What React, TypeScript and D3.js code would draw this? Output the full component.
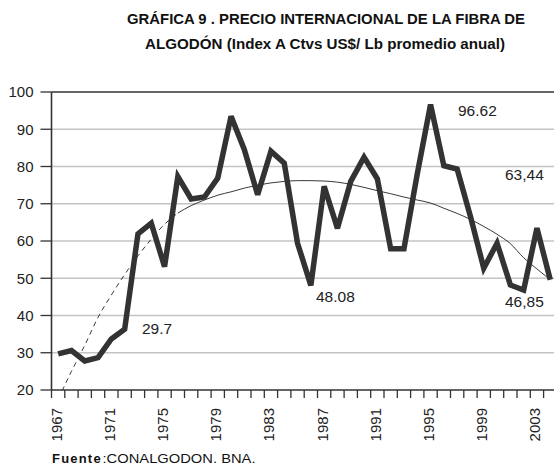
import React from "react";
import * as d3 from "d3";

const years = [
  1967, 1968, 1969, 1970, 1971, 1972, 1973, 1974, 1975, 1976, 1977, 1978, 1979,
  1980, 1981, 1982, 1983, 1984, 1985, 1986, 1987, 1988, 1989, 1990, 1991, 1992,
  1993, 1994, 1995, 1996, 1997, 1998, 1999, 2000, 2001, 2002, 2003, 2004,
];

const prices = [
  29.7, 30.6, 27.8, 28.7, 33.7, 36.3, 61.9, 64.8, 53.1, 77.3, 71.3, 71.8, 76.9,
  93.5, 84.5, 72.4, 84.1, 80.9, 59.4, 48.08, 74.7, 63.4, 76.0, 82.5, 76.7, 57.9,
  57.9, 78.0, 96.62, 80.2, 79.3, 66.6, 52.7, 59.4, 48.2, 46.85, 63.44, 49.6,
];

const trend = [
  17.5, 25, 32, 39.5, 45.5, 51, 56, 60.5, 64.5, 67.5, 69.5, 71, 72.3, 73.2,
  74.2, 75, 75.6, 76, 76.2, 76.2, 76.1, 75.8, 75.2, 74.4, 73.5, 72.7, 71.8, 71,
  70.2, 68.8, 67.4, 65.8, 63.9, 61.8, 59.3, 55.5, 52.5, 49.6,
];

const yTicks = [20, 30, 40, 50, 60, 70, 80, 90, 100];
const xLabelYears = [1967, 1971, 1975, 1979, 1983, 1987, 1991, 1995, 1999, 2003];

const annotations = ["29.7", "48.08", "96.62", "63,44", "46,85"];

const titleLines = [
  "GRÁFICA 9 . PRECIO INTERNACIONAL DE LA FIBRA DE",
  "ALGODÓN (Index A Ctvs US$/ Lb promedio anual)",
];

const sourceLabel = "Fuente";
const sourceText = ":CONALGODON. BNA.";

const W = 554;
const H = 466;
const left = 51.5;
const step = 13.3;
const top = 92;
const bottom = 390;
const font = "'Liberation Sans', Arial, sans-serif";

const annPos: Record<string, [number, number]> = {
  "29.7": [142, 334],
  "48.08": [316, 302],
  "96.62": [458, 116],
  "63,44": [505, 180],
  "46,85": [505, 307],
};

export default function App() {
  const x = d3
    .scaleBand<number>()
    .domain(years)
    .range([left, left + years.length * step])
    .padding(0);
  const y = d3.scaleLinear().domain([20, 100]).range([bottom, top]);
  const cx = (yr: number) => (x(yr) as number) + x.bandwidth() / 2;

  const line = d3
    .line<number>()
    .x((_, i) => cx(years[i]))
    .y((d) => y(d));

  const splitIdx = years.indexOf(1976);
  const trendDashed =
    d3
      .line<number>()
      .x((_, i) => cx(years[i]))
      .y((d) => y(d))
      .curve(d3.curveMonotoneX)(trend.slice(0, splitIdx + 1)) || "";
  const trendSolid =
    d3
      .line<number>()
      .x((_, i) => cx(years[i + splitIdx]))
      .y((d) => y(d))
      .curve(d3.curveMonotoneX)(trend.slice(splitIdx)) || "";

  const rightEdge = left + years.length * step;
  const boundaries = years.map((yr) => x(yr) as number).concat([rightEdge]);

  return (
    <svg
      width={W}
      height={H}
      style={{ position: "absolute", left: 0, top: 0, background: "#fff" }}
      fontFamily={font}
    >
      <defs>
        <clipPath id="plotClip">
          <rect x={left} y={top} width={rightEdge - left} height={bottom - top} />
        </clipPath>
      </defs>
      <rect x={0} y={0} width={W} height={H} fill="#fff" />

      <text
        x={326}
        y={24}
        textAnchor="middle"
        fontSize={14}
        fontWeight="bold"
        fill="#111"
        textLength={398}
        lengthAdjust="spacingAndGlyphs"
      >
        {titleLines[0]}
      </text>
      <text
        x={325}
        y={49}
        textAnchor="middle"
        fontSize={14}
        fontWeight="bold"
        fill="#111"
        textLength={360}
        lengthAdjust="spacingAndGlyphs"
      >
        {titleLines[1]}
      </text>

      {yTicks
        .filter((t) => t !== 20 && t !== 100)
        .map((t) => (
          <line
            key={"g" + t}
            x1={left}
            x2={rightEdge}
            y1={y(t)}
            y2={y(t)}
            stroke="#c4c4c4"
            strokeWidth={1.6}
          />
        ))}

      <line x1={left} x2={rightEdge} y1={top} y2={top} stroke="#333" strokeWidth={1.4} />

      {yTicks.map((t) => (
        <g key={"y" + t}>
          <line x1={left - 11} x2={left} y1={y(t)} y2={y(t)} stroke="#333" strokeWidth={1.3} />
          <text x={33.5} y={y(t)} dy="0.36em" textAnchor="end" fontSize={15} fill="#222">
            {t}
          </text>
        </g>
      ))}

      {boundaries.map((b, i) => (
        <line
          key={"xt" + i}
          x1={b}
          x2={b}
          y1={bottom}
          y2={bottom + 8}
          stroke="#333"
          strokeWidth={1.3}
        />
      ))}

      {xLabelYears.map((yr) => (
        <text
          key={"xl" + yr}
          transform={`translate(${cx(yr) - 2},${bottom + 18}) rotate(-90)`}
          textAnchor="end"
          dy="0.36em"
          fontSize={15}
          fill="#222"
        >
          {yr}
        </text>
      ))}

      <line x1={left} x2={left} y1={top} y2={bottom} stroke="#333" strokeWidth={1.6} />
      <line x1={left} x2={rightEdge} y1={bottom} y2={bottom} stroke="#333" strokeWidth={1.6} />

      <g clipPath="url(#plotClip)">
        <path d={trendDashed} fill="none" stroke="#222" strokeWidth={0.9} strokeDasharray="5,4" />
        <path d={trendSolid} fill="none" stroke="#222" strokeWidth={0.9} />
      </g>

      <path
        d={line(prices) || ""}
        fill="none"
        stroke="#333"
        strokeWidth={5.5}
        strokeLinejoin="miter"
        strokeMiterlimit={3}
      />

      {annotations.map((a) => (
        <text key={"a" + a} x={annPos[a][0]} y={annPos[a][1]} fontSize={15.5} fill="#222">
          {a}
        </text>
      ))}

      <text x={52} y={463} fontSize={13} fill="#111" fontWeight="bold" letterSpacing={1.2}>
        {sourceLabel}
      </text>
      <text
        x={102.5}
        y={463}
        fontSize={13}
        fill="#111"
        textLength={153}
        lengthAdjust="spacingAndGlyphs"
      >
        {sourceText}
      </text>
    </svg>
  );
}
